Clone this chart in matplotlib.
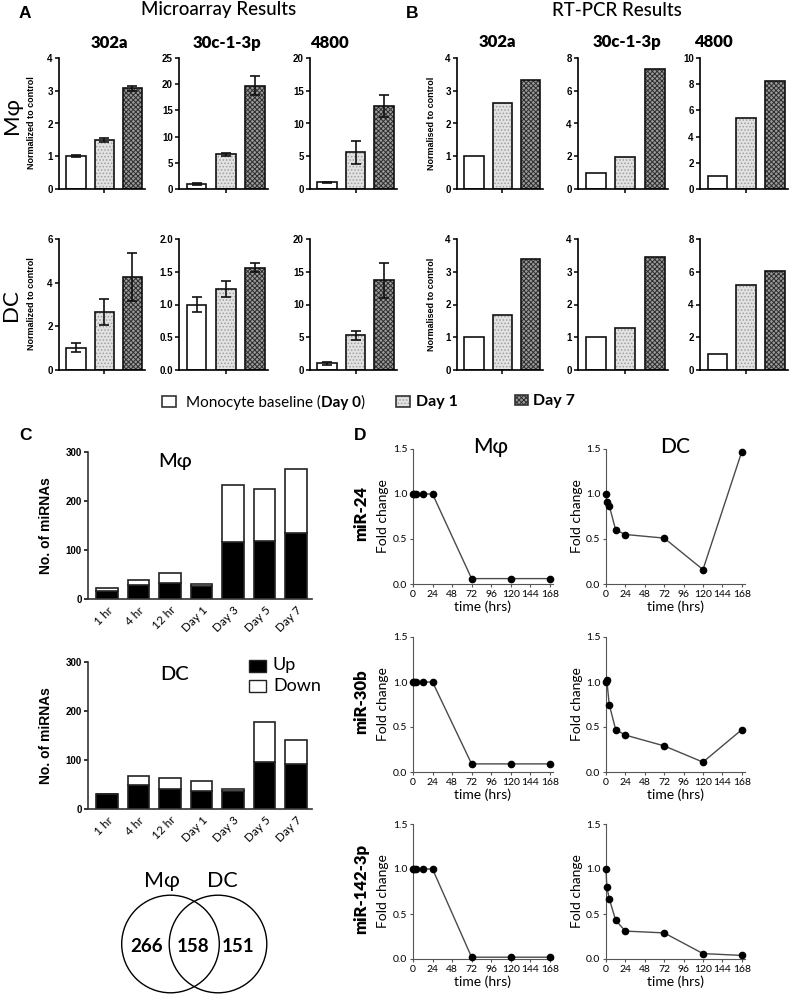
import matplotlib
matplotlib.use('Agg')
import matplotlib.pyplot as plt
from matplotlib.patches import Rectangle, Circle
import numpy as np

plt.rcParams['hatch.linewidth'] = 0.7

W, H = 790, 994
GS = ['Lato', 'DejaVu Sans']           # stand-in for Gill Sans
AR = ['Liberation Sans', 'DejaVu Sans']

# ---------------- data ----------------
genes = ['302a', '30c-1-3p', '4800']
groups = ['Monocyte baseline', 'Day 1', 'Day 7']

micro_mf = [[1.0, 1.5, 3.07], [1.0, 6.6, 19.7], [1.0, 5.6, 12.7]]
micro_mf_err = [[0.03, 0.07, 0.07], [0.15, 0.25, 1.8], [0.1, 1.8, 1.7]]
micro_dc = [[1.03, 2.65, 4.27], [1.0, 1.24, 1.56], [1.0, 5.3, 13.7]]
micro_dc_err = [[0.22, 0.58, 1.1], [0.11, 0.12, 0.07], [0.2, 0.7, 2.7]]
pcr_mf = [[1.0, 2.62, 3.33], [1.0, 1.95, 7.3], [1.0, 5.45, 8.25]]
pcr_dc = [[1.0, 1.67, 3.38], [1.0, 1.28, 3.45], [1.0, 5.2, 6.07]]

timepoints = ['1 hr', '4 hr', '12 hr', 'Day 1', 'Day 3', 'Day 5', 'Day 7']
mf_up = [17, 28, 32, 26, 116, 119, 135]
mf_total = [22, 38, 53, 30, 233, 224, 266]
dc_up = [30, 49, 41, 37, 37, 96, 92]
dc_total = [31, 68, 64, 58, 41, 178, 141]

venn_counts = [266, 158, 151]   # Mphi only, both, DC only

hours = [0, 1, 4, 12, 24, 72, 120, 168]
mirs = ['miR-24', 'miR-30b', 'miR-142-3p']
fold_mf = [[1, 1, 1, 1, 1, 0.06, 0.06, 0.06],
           [1, 1, 1, 1, 1, 0.09, 0.09, 0.09],
           [1, 1, 1, 1, 1, 0.02, 0.02, 0.02]]
fold_dc = [[1.0, 0.91, 0.87, 0.60, 0.55, 0.51, 0.16, 1.47],
           [1.0, 1.02, 0.75, 0.47, 0.41, 0.29, 0.11, 0.47],
           [1.0, 0.80, 0.67, 0.43, 0.31, 0.29, 0.06, 0.04]]

# axis scales (top, step) per panel
lim_micro_mf = [(4, 1), (25, 5), (20, 5)]
lim_micro_dc = [(6, 2), (2.0, 0.5), (20, 5)]
lim_pcr_mf = [(4, 1), (8, 2), (10, 2)]
lim_pcr_dc = [(4, 1), (4, 1), (8, 2)]

fills = ['white', '#e2e2e2', '#9a9a9a']
hatch_cols = ['white', '#a0a0a0', '#2e2e2e']
hatches = ['', '.....', 'xxxxxxx']


def box(x0, y0, x1, y1):
    return [x0 / W, 1 - y1 / H, (x1 - x0) / W, (y1 - y0) / H]


def bold_ticks(ax, size):
    for lab in ax.get_xticklabels() + ax.get_yticklabels():
        lab.set_family(AR)
        lab.set_fontweight('bold')
        lab.set_fontsize(size)


def bar_panel(ax, vals, err, lim):
    top, step = lim
    x = np.arange(len(vals))
    bars = ax.bar(x, vals, 0.68, color=fills, edgecolor=hatch_cols, linewidth=0)
    for b, h in zip(bars, hatches):
        b.set_hatch(h)
    ax.bar(x, vals, 0.68, fill=False, edgecolor='#111111', linewidth=1.2)
    if err is not None:
        ax.errorbar(x, vals, yerr=err, fmt='none', ecolor='#111111',
                    elinewidth=1.2, capsize=3.5, capthick=1.2)
    ax.set_xlim(-0.6, 2.45)
    ax.set_ylim(0, top)
    ax.set_yticks(np.arange(0, top + step / 2, step))
    ax.set_xticks([1])
    ax.set_xticklabels([''])
    for s in ['top', 'right']:
        ax.spines[s].set_visible(False)
    for s in ['left', 'bottom']:
        ax.spines[s].set_linewidth(1.2)
    ax.tick_params(length=3, width=1.1, pad=1.5)
    ax.patch.set_alpha(0)
    bold_ticks(ax, 7)


def count_panel(ax, up, total):
    x = np.arange(len(timepoints))
    down = [t - u for t, u in zip(total, up)]
    ax.bar(x, up, 0.68, color='black', edgecolor='#222222', linewidth=1.2)
    ax.bar(x, down, 0.68, bottom=up, color='white', edgecolor='#222222', linewidth=1.2)
    ax.set_xlim(-0.6, 6.5)
    ax.set_ylim(0, 300)
    ax.set_yticks([0, 100, 200, 300])
    ax.set_xticks(x)
    ax.set_xticklabels(timepoints, rotation=45, ha='right', rotation_mode='anchor',
                       family=GS, fontsize=8.5)
    for s in ['top', 'right']:
        ax.spines[s].set_visible(False)
    for s in ['left', 'bottom']:
        ax.spines[s].set_linewidth(1.2)
        ax.spines[s].set_color('#333333')
    ax.tick_params(axis='y', length=3, width=1.1, pad=1.5)
    ax.tick_params(axis='x', length=0, pad=4)
    ax.patch.set_alpha(0)
    for lab in ax.get_yticklabels():
        lab.set_family(AR)
        lab.set_fontweight('bold')
        lab.set_fontsize(7)


def fold_panel(ax, vals):
    ax.plot(hours, vals, color='#4a4a4a', lw=1, marker='o', ms=4.5,
            mfc='black', mec='black', clip_on=False, zorder=3)
    ax.set_xlim(0, 172)
    ax.set_ylim(0, 1.5)
    ax.set_xticks(range(0, 169, 24))
    ax.set_yticks([0, 0.5, 1.0, 1.5])
    ax.yaxis.set_major_formatter('{x:.1f}')
    for s in ['top', 'right']:
        ax.spines[s].set_visible(False)
    for s in ['left', 'bottom']:
        ax.spines[s].set_linewidth(0.8)
        ax.spines[s].set_color('#555555')
    ax.tick_params(length=2.5, width=0.8, color='#555555', pad=1.5, labelsize=7.5)
    for lab in ax.get_xticklabels() + ax.get_yticklabels():
        lab.set_family(GS)
    ax.set_xlabel('time (hrs)', family=GS, fontsize=10, labelpad=1.5)
    ax.patch.set_alpha(0)


fig = plt.figure(figsize=(W / 100, H / 100), dpi=100)

# ---------------- panel A / B ----------------
a_cols = [(59, 145), (179, 268), (310, 397)]
b_cols = [(457, 543), (578, 668), (700, 788)]
row_y = [(58, 189), (239, 370)]

for i in range(3):
    ax = fig.add_axes(box(a_cols[i][0], row_y[0][0], a_cols[i][1], row_y[0][1]))
    bar_panel(ax, micro_mf[i], micro_mf_err[i], lim_micro_mf[i])
    ax = fig.add_axes(box(a_cols[i][0], row_y[1][0], a_cols[i][1], row_y[1][1]))
    bar_panel(ax, micro_dc[i], micro_dc_err[i], lim_micro_dc[i])
    ax = fig.add_axes(box(b_cols[i][0], row_y[0][0], b_cols[i][1], row_y[0][1]))
    bar_panel(ax, pcr_mf[i], None, lim_pcr_mf[i])
    ax = fig.add_axes(box(b_cols[i][0], row_y[1][0], b_cols[i][1], row_y[1][1]))
    bar_panel(ax, pcr_dc[i], None, lim_pcr_dc[i])

# ---------------- panel C ----------------
axc1 = fig.add_axes(box(88, 452, 312, 599))
count_panel(axc1, mf_up, mf_total)
axc2 = fig.add_axes(box(88, 662, 312, 809))
count_panel(axc2, dc_up, dc_total)

# ---------------- panel D ----------------
d_cols = [(413, 553), (606, 745)]
d_rows = [(449, 584), (637, 772), (824, 959)]
for r in range(3):
    ax = fig.add_axes(box(d_cols[0][0], d_rows[r][0], d_cols[0][1], d_rows[r][1]))
    fold_panel(ax, fold_mf[r])
    ax = fig.add_axes(box(d_cols[1][0], d_rows[r][0], d_cols[1][1], d_rows[r][1]))
    fold_panel(ax, fold_dc[r])

# ---------------- overlay for labels, legends, venn ----------------
ov = fig.add_axes([0, 0, 1, 1], zorder=10)
ov.set_xlim(0, W)
ov.set_ylim(H, 0)
ov.axis('off')

# panel letters
for letter, (lx, ly) in zip('ABCD', [(25, 14), (412, 14), (25, 435), (360, 435)]):
    ov.text(lx, ly, letter, family=AR, fontweight='bold', fontsize=12.5, ha='center', va='center')

ov.text(219, 10, 'Microarray Results', family=GS, fontsize=13.5, fontweight='medium',
        ha='center', va='center')
ov.text(617, 10, 'RT-PCR Results', family=GS, fontsize=13.5, fontweight='medium',
        ha='center', va='center')

for g, tx in zip(genes, [109, 227, 329]):
    ov.text(tx, 43, g, family=GS, fontweight='heavy', fontsize=12, ha='center', va='center')
for g, tx in zip(genes, [497, 627, 713]):
    ov.text(tx, 42, g, family=GS, fontweight='heavy', fontsize=12, ha='center', va='center')

ov.text(12, 115, 'Mφ', family=GS, fontsize=16, rotation=90, ha='center', va='center')
ov.text(11, 305, 'DC', family=GS, fontsize=16, rotation=90, ha='center', va='center')
for ry in [123, 304]:
    ov.text(32, ry, 'Normalized to control', family=AR, fontweight='bold', fontsize=6.5,
            rotation=90, ha='center', va='center')
    ov.text(432, ry, 'Normalised to control', family=AR, fontweight='bold', fontsize=6.5,
            rotation=90, ha='center', va='center')

# bar legend
leg_boxes = [(162, 396, 14, 11), (396, 396, 14, 11), (515, 395, 13, 10)]
for (bx, by, bw, bh), fc, hc, hh in zip(leg_boxes, fills, hatch_cols, hatches):
    ov.add_patch(Rectangle((bx, by), bw, bh, facecolor=fc, edgecolor=hc, lw=0, hatch=hh))
    ov.add_patch(Rectangle((bx, by), bw, bh, fill=False, edgecolor='#333333', lw=1.2))
t1 = ov.text(186, 402, groups[0] + ' (', family=GS, fontsize=11, ha='left', va='center')
t2 = ov.annotate('Day 0', xy=(1, 0), xycoords=t1, family=GS, fontsize=11,
                 fontweight='bold', ha='left', va='bottom')
ov.annotate(')', xy=(1, 0), xycoords=t2, family=GS, fontsize=11, ha='left', va='bottom')
ov.text(416, 402, groups[1], family=GS, fontsize=11.5, fontweight='bold', ha='left', va='center')
ov.text(533, 401, groups[2], family=GS, fontsize=11.5, fontweight='bold', ha='left', va='center')

# panel C labels
ov.text(46, 526, 'No. of miRNAs', family=AR, fontweight='bold', fontsize=10,
        rotation=90, ha='center', va='center')
ov.text(46, 736, 'No. of miRNAs', family=AR, fontweight='bold', fontsize=10,
        rotation=90, ha='center', va='center')
ov.text(175, 461, 'Mφ', family=GS, fontsize=14.5, fontweight='medium', ha='center', va='center')
ov.text(175, 674, 'DC', family=GS, fontsize=14.5, fontweight='medium', ha='center', va='center')
ov.add_patch(Rectangle((249, 660), 17, 12, facecolor='black', edgecolor='#222222', lw=1))
ov.add_patch(Rectangle((249, 680), 17, 12, facecolor='white', edgecolor='#222222', lw=1))
ov.text(273, 665, 'Up', family=GS, fontsize=13, ha='left', va='center')
ov.text(273, 686, 'Down', family=GS, fontsize=13, ha='left', va='center')

# venn
ov.add_patch(Circle((170.5, 944), 48.8, fill=False, edgecolor='black', lw=1))
ov.add_patch(Circle((218, 944), 48.8, fill=False, edgecolor='black', lw=1))
ov.text(162, 881, 'Mφ', family=GS, fontsize=15.5, ha='center', va='center')
ov.text(222, 881, 'DC', family=GS, fontsize=15.5, ha='center', va='center')
for n, vx in zip(venn_counts, [147, 193, 238]):
    ov.text(vx, 946, str(n), family=GS, fontweight='bold', fontsize=13.5, ha='center', va='center')

# panel D labels
ov.text(491, 447, 'Mφ', family=GS, fontsize=15, fontweight='medium', ha='center', va='center')
ov.text(675, 447, 'DC', family=GS, fontsize=15, fontweight='medium', ha='center', va='center')
for (y0, y1), m in zip(d_rows, mirs):
    yc = (y0 + y1) / 2
    ov.text(361, yc - 3, m, family=GS, fontweight='heavy', fontsize=12,
            rotation=90, ha='center', va='center')
    ov.text(383, yc, 'Fold change', family=GS, fontsize=10, rotation=90, ha='center', va='center')
    ov.text(577, yc, 'Fold change', family=GS, fontsize=10, rotation=90, ha='center', va='center')

fig.savefig('out.png', dpi=100, facecolor='white')
